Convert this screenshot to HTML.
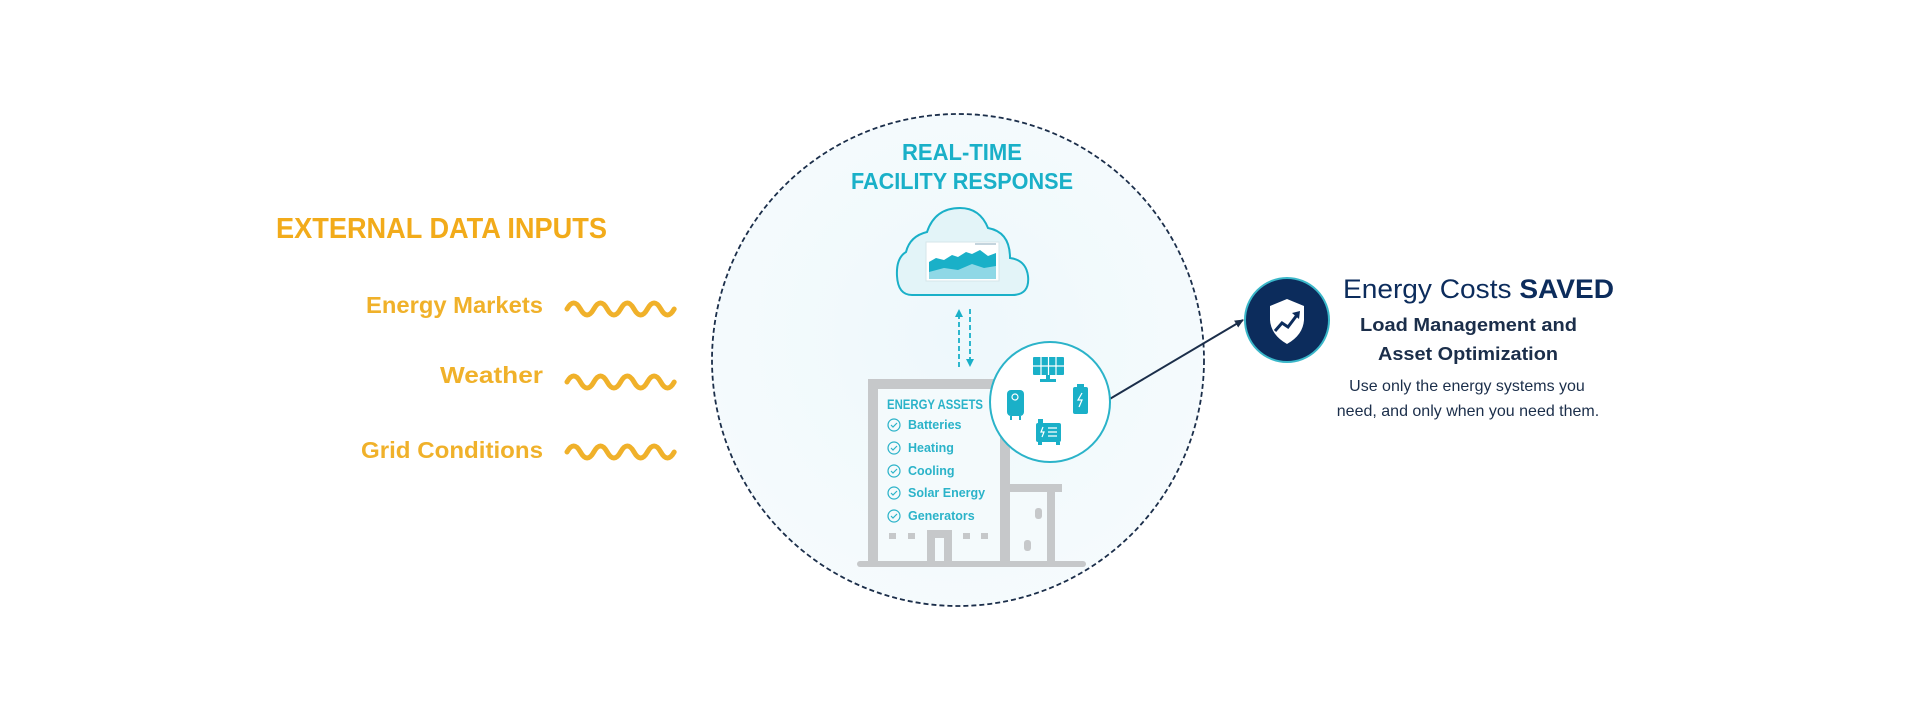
<!DOCTYPE html>
<html><head><meta charset="utf-8"><style>
html,body{margin:0;padding:0;background:#fff;width:1920px;height:720px;overflow:hidden}
svg{display:block}
text{font-family:"Liberation Sans",sans-serif}
</style></head><body>
<svg width="1920" height="720" viewBox="0 0 1920 720" xmlns="http://www.w3.org/2000/svg">
<defs>
<radialGradient id="bg" cx="0.5" cy="0.45" r="0.6">
<stop offset="0" stop-color="#eef8fc"/><stop offset="1" stop-color="#f6fbfd"/>
</radialGradient>
<marker id="ah" markerWidth="10" markerHeight="10" refX="8" refY="5" orient="auto" markerUnits="userSpaceOnUse">
<path d="M0,1 L9,5 L0,9 Z" fill="#1b2e4a"/></marker>
<marker id="tah" markerWidth="8" markerHeight="8" refX="4" refY="4" orient="auto" markerUnits="userSpaceOnUse">
<path d="M0,0 L8,4 L0,8 Z" fill="#1ab0c8"/></marker>
</defs>

<!-- Left section -->
<text x="276" y="238" font-size="29" font-weight="bold" fill="#f2ab1a" textLength="331" lengthAdjust="spacingAndGlyphs">EXTERNAL DATA INPUTS</text>
<g font-size="23" font-weight="bold" fill="#f0b12a">
<text x="366" y="313" textLength="177" lengthAdjust="spacingAndGlyphs">Energy Markets</text>
<text x="440" y="383" textLength="103" lengthAdjust="spacingAndGlyphs">Weather</text>
<text x="361" y="458" textLength="182" lengthAdjust="spacingAndGlyphs">Grid Conditions</text>
</g>
<g fill="none" stroke="#f0b12a" stroke-width="5" stroke-linecap="round">
<path d="M567,309 q6.7,-12 13.4,0 t13.4,0 t13.4,0 t13.4,0 t13.4,0 t13.4,0 t13.4,0 t13.4,0"/>
<path d="M567,382 q6.7,-12 13.4,0 t13.4,0 t13.4,0 t13.4,0 t13.4,0 t13.4,0 t13.4,0 t13.4,0"/>
<path d="M567,452 q6.7,-12 13.4,0 t13.4,0 t13.4,0 t13.4,0 t13.4,0 t13.4,0 t13.4,0 t13.4,0"/>
</g>

<!-- Big circle -->
<circle cx="958" cy="360" r="246" fill="url(#bg)" stroke="#1b2e4a" stroke-width="1.8" stroke-dasharray="5,3"/>
<g font-size="23" font-weight="bold" fill="#1ab0c8">
<text x="902" y="160" textLength="120" lengthAdjust="spacingAndGlyphs">REAL-TIME</text>
<text x="851" y="189" textLength="222" lengthAdjust="spacingAndGlyphs">FACILITY RESPONSE</text>
</g>

<!-- Cloud -->
<path d="M912,295 L1012,295 Q1030,295 1028,276 Q1026,260 1010,258 Q1010,232 988,228 Q980,208 960,208 Q935,208 927,232 Q910,236 906,252 Q896,258 897,276 Q898,295 912,295 Z" fill="#e3f4f8" stroke="#1ab0c8" stroke-width="2"/>
<rect x="926" y="242" width="73" height="39" fill="#fff" stroke="#d6e6ea"/>
<path d="M929,262 L936,258 L944,260 L952,255 L958,257 L966,252 L972,254 L980,250 L988,256 L996,253 L996,279 L929,279 Z" fill="#1ab0c8"/>
<path d="M929,272 L944,268 L958,270 L972,264 L984,268 L996,266 L996,279 L929,279 Z" fill="#8fd8e6"/>
<line x1="975" y1="244" x2="996" y2="244" stroke="#8ab" stroke-width="1"/>

<!-- arrows -->
<line x1="959" y1="367" x2="959" y2="313" stroke="#1ab0c8" stroke-width="1.8" stroke-dasharray="5,3" marker-end="url(#tah)"/>
<line x1="970" y1="309" x2="970" y2="363" stroke="#1ab0c8" stroke-width="1.8" stroke-dasharray="5,3" marker-end="url(#tah)"/>

<!-- Building -->
<rect x="873" y="384" width="132" height="178" fill="#f4fafc"/>
<rect x="1005" y="488" width="45" height="74" fill="#f4fafc"/>
<g fill="none" stroke="#c6c8ca" stroke-width="10">
<path d="M873,562 L873,384 L1005,384 L1005,562"/>
<path d="M1005,488 L1062,488" stroke-width="8"/>
<path d="M1051,488 L1051,562" stroke-width="8"/>
<path d="M931,562 L931,534 L948,534 L948,562" stroke-width="8"/>
</g>
<line x1="860" y1="564" x2="1083" y2="564" stroke="#c6c8ca" stroke-width="6" stroke-linecap="round"/>
<g fill="#c6c8ca">
<rect x="889" y="533" width="7" height="6"/><rect x="908" y="533" width="7" height="6"/>
<rect x="963" y="533" width="7" height="6"/><rect x="981" y="533" width="7" height="6"/>
<rect x="1035" y="508" width="7" height="11" rx="3"/><rect x="1024" y="540" width="7" height="11" rx="3"/>
</g>
<text x="887" y="409" font-size="13.5" font-weight="bold" fill="#2bb3c9" textLength="96" lengthAdjust="spacingAndGlyphs">ENERGY ASSETS</text>
<g font-size="12.5" font-weight="bold" fill="#2bb3c9">
<text x="908" y="429">Batteries</text>
<text x="908" y="452">Heating</text>
<text x="908" y="475">Cooling</text>
<text x="908" y="497">Solar Energy</text>
<text x="908" y="520">Generators</text>
</g>
<g fill="none" stroke="#2bb3c9" stroke-width="1.2">
<circle cx="894" cy="425" r="6"/><path d="M891,425 l2,2 l4,-4"/>
<circle cx="894" cy="448" r="6"/><path d="M891,448 l2,2 l4,-4"/>
<circle cx="894" cy="471" r="6"/><path d="M891,471 l2,2 l4,-4"/>
<circle cx="894" cy="493" r="6"/><path d="M891,493 l2,2 l4,-4"/>
<circle cx="894" cy="516" r="6"/><path d="M891,516 l2,2 l4,-4"/>
</g>

<!-- connector -->
<line x1="1108" y1="400" x2="1243" y2="320" stroke="#1b2e4a" stroke-width="2" marker-end="url(#ah)"/>

<!-- assets circle -->
<circle cx="1050" cy="402" r="60" fill="#fff" stroke="#2bb3c9" stroke-width="2"/>
<g fill="#1ab0c8">
<rect x="1033" y="357" width="31" height="18" rx="1"/>
<rect x="1046" y="375" width="4" height="5"/><rect x="1040" y="379" width="16" height="3"/>
<rect x="1007" y="390" width="17" height="26" rx="4"/>
<rect x="1010" y="416" width="2" height="4"/><rect x="1019" y="416" width="2" height="4"/>
<rect x="1073" y="387" width="15" height="27" rx="2"/><rect x="1077" y="384" width="7" height="3"/>
<rect x="1036" y="423" width="25" height="19" rx="2"/><rect x="1038" y="419" width="5" height="4"/>
<rect x="1038" y="442" width="4" height="3"/><rect x="1056" y="442" width="4" height="3"/>
</g>
<g stroke="#fff" stroke-width="1.2" fill="none">
<path d="M1041,357 v18 M1048.5,357 v18 M1056,357 v18 M1033,366 h31"/>
<circle cx="1015" cy="397" r="3"/>
<path d="M1082,393 l-4,7 h4 l-3,7"/>
<path d="M1043,427 l-2,5 h3 l-2,5 M1048,428 h9 M1048,432 h9 M1048,436 h9"/>
</g>

<!-- shield circle -->
<circle cx="1287" cy="320" r="42" fill="#0c2c5c" stroke="#3ab7c9" stroke-width="2"/>
<path d="M1287,299 L1304,306 L1304,320 Q1303,335 1287,344 Q1271,335 1270,320 L1270,306 Z" fill="#fff"/>
<path d="M1275,331 L1282,323 L1288,327 L1297,315" stroke="#0c2c5c" stroke-width="3" fill="none"/>
<path d="M1292,313 L1300,311 L1299,319 Z" fill="#0c2c5c"/>

<!-- right text -->
<text x="1343" y="298" font-size="27" fill="#0c2c5c" textLength="271" lengthAdjust="spacingAndGlyphs">Energy Costs <tspan font-weight="bold">SAVED</tspan></text>
<g font-size="18" font-weight="bold" fill="#1b2e4a">
<text x="1360" y="331" textLength="217" lengthAdjust="spacingAndGlyphs">Load Management and</text>
<text x="1378" y="360" textLength="180" lengthAdjust="spacingAndGlyphs">Asset Optimization</text>
</g>
<g font-size="16" fill="#1b2e4a" text-anchor="middle">
<text x="1467" y="391">Use only the energy systems you</text>
<text x="1468" y="416">need, and only when you need them.</text>
</g>
</svg>
</body></html>
